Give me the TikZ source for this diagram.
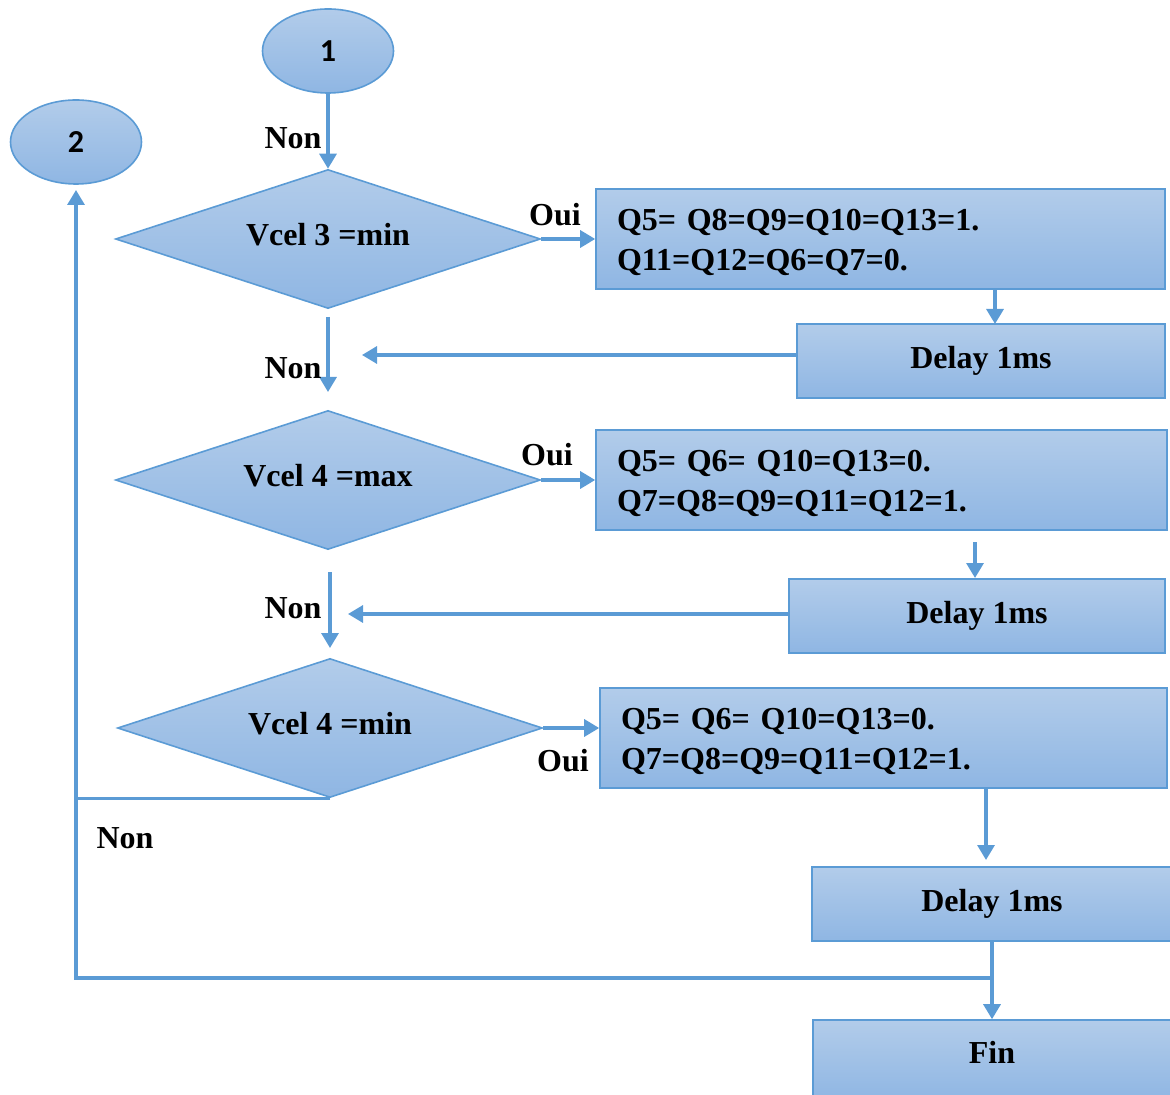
\documentclass[tikz,border=0pt]{standalone}
\usepackage{fontspec}
\setmainfont{Liberation Serif}
\newfontfamily\numfont{Carlito}
\usetikzlibrary{shapes.geometric,arrows.meta}

\definecolor{flowline}{RGB}{91,155,213}
\definecolor{filltop}{RGB}{178,204,234}
\definecolor{fillbot}{RGB}{143,182,227}

\tikzset{
  shade/.style={top color=filltop,bottom color=fillbot,draw=flowline,line width=0.8pt},
  term/.style={shade,ellipse,minimum width=65.5pt,minimum height=42pt,inner sep=0pt,
    font=\numfont\bfseries\fontsize{16}{18}\selectfont},
  decision/.style={shade,diamond,aspect=3,minimum width=212.5pt,minimum height=69.5pt,inner sep=0pt,
    font=\bfseries\fontsize{16}{20}\selectfont},
  action/.style={shade,rectangle,minimum height=50pt,inner xsep=10.5pt,inner ysep=0pt,
    align=left,font=\bfseries\fontsize{16}{20}\selectfont},
  waitbox/.style={shade,rectangle,minimum height=37pt,inner sep=0pt,
    font=\bfseries\fontsize{16}{20}\selectfont},
  lbl/.style={font=\bfseries\fontsize{16}{20}\selectfont,inner sep=0pt},
  link/.style={draw=flowline,line width=1.6pt},
  arr/.style={link,-{Triangle[length=7.5pt,width=8.5pt]}},
}

\begin{document}
\begin{tikzpicture}[x=0.5pt,y=-0.5pt]
\useasboundingbox (0,0) rectangle (1170,1095);

% start connectors
\node[term] (e1) at (328,51) {1};
\node[term] (e2) at (76,142) {2};

% decisions
\node[decision] (d1) at (328,239) {\raisebox{5pt}{Vcel 3 =min}};
\node[decision] (d2) at (328,480) {\raisebox{5pt}{Vcel 4 =max}};
\node[decision] (d3) at (330,728) {\raisebox{5pt}{Vcel 4 =min}};

% actions
\node[action,minimum width=284.5pt,text width=263.5pt] (b1) at (880.5,239)
  {\rule{0pt}{14pt}Q5= Q8=Q9=Q10=Q13=1.\\Q11=Q12=Q6=Q7=0.};
\node[action,minimum width=285.5pt,text width=264.5pt] (b2) at (881.5,480)
  {\rule{0pt}{14pt}Q5= Q6= Q10=Q13=0.\\Q7=Q8=Q9=Q11=Q12=1.};
\node[action,minimum width=283.5pt,text width=262.5pt] (b3) at (883.5,738)
  {\rule{0pt}{14pt}Q5= Q6= Q10=Q13=0.\\Q7=Q8=Q9=Q11=Q12=1.};

% delays and end
\node[waitbox,minimum width=184pt] (w1) at (981,361) {\raisebox{3.5pt}{Delay 1ms}};
\node[waitbox,minimum width=188pt] (w2) at (977,616) {\raisebox{3.5pt}{Delay 1ms}};
\node[waitbox,minimum width=180pt] (w3) at (992,904) {\raisebox{3.5pt}{Delay 1ms}};
\node[waitbox,minimum width=179pt,minimum height=40pt] (fin) at (992,1060) {\raisebox{8pt}{Fin}};

% free ends of the connectors
\coordinate (t1) at (995,324);
\coordinate (n1) at (362,355);
\coordinate (s2) at (328,317);
\coordinate (f2) at (328,392);
\coordinate (s3) at (975,542);
\coordinate (t3) at (975,578);
\coordinate (n2) at (348,614);
\coordinate (s4) at (330,572);
\coordinate (f4) at (330,648);
\coordinate (t5) at (986,860);
\coordinate (up) at (76,190);
\coordinate (J) at (992,978);

% connectors
\draw[arr] (e1.south) -- (d1.north);
\draw[arr] (d1.east) -- (b1.west);
\draw[arr] (b1.south -| t1) -- (t1);
\draw[arr] (w1.west |- n1) -- (n1);
\draw[arr] (s2) -- (f2);

\draw[arr] (d2.east) -- (b2.west);
\draw[arr] (s3) -- (t3);
\draw[arr] (w2.west |- n2) -- (n2);
\draw[arr] (s4) -- (f4);

\draw[arr] (d3.east) -- (d3.east -| b3.west);
\draw[arr] (b3.south -| t5) -- (t5);
\draw[arr] (d3.south) -| (up);
\draw[link] (d3.south -| up) |- (J);
\draw[arr] (w3.south -| fin.north) -- (fin.north);

% branch labels
\node[lbl] (l1) at (293,138) {Non};
\node[lbl] (l2) at (555,215) {Oui};
\node[lbl] (l3) at (293,368) {Non};
\node[lbl] (l4) at (547,455) {Oui};
\node[lbl] (l5) at (293,608) {Non};
\node[lbl] (l6) at (563,761) {Oui};
\node[lbl] (l7) at (125,838) {Non};
\end{tikzpicture}
\end{document}
